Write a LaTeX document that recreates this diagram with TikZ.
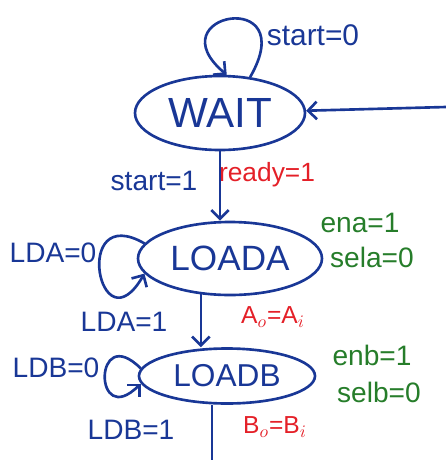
\documentclass[tikz,border=0pt]{standalone}
\usepackage{fontspec}
\setmainfont{Liberation Sans}
\usetikzlibrary{shapes,positioning,arrows.meta}
\definecolor{pen}{RGB}{25,55,150}
\definecolor{penred}{RGB}{228,32,40}
\definecolor{pengreen}{RGB}{38,125,42}
\tikzset{
  state/.style={draw=pen, ellipse, text=pen, inner sep=0pt},
  cond/.style={text=pen, font=\fontsize{16}{18}\selectfont, inner sep=0pt},
  outp/.style={text=penred, font=\fontsize{14}{16}\selectfont, inner sep=0pt},
  sig/.style={text=pengreen, font=\fontsize{16}{18}\selectfont, inner sep=0pt}
}

\begin{document}
\begin{tikzpicture}[line width=1.5pt, >={Straight Barb[length=5pt,width=10pt]}]
         \useasboundingbox (0,0) rectangle (8.92,-9.2);
         \node [state, minimum width=3.4cm, minimum height=1.48cm,
                font=\fontsize{24}{26}\selectfont] (W) at (4.4,-2.26) {WAIT};
         \node [state, minimum width=3.68cm, minimum height=1.46cm,
                font=\fontsize{20}{22}\selectfont] (LA) at (4.6,-5.17) {LOADA};
         \node [state, minimum width=3.52cm, minimum height=1.1cm,
                font=\fontsize{18}{20}\selectfont] (LB) at (4.54,-7.52) {LOADB};
         \coordinate (IN) at (8.92,-2.14);
         \coordinate (OUT) at (4.24,-9.2);
         % conditions and outputs
         \node [cond, font=\fontsize{17}{19}\selectfont] (s0) at (6.26,-0.7) {start=0};
         \node [cond] (s1) at (3.08,-3.62) {start=1};
         \node [outp, font=\fontsize{15}{17}\selectfont] (rdy) at (5.34,-3.5) {ready=1};
         \node [cond] (a0) at (1.06,-5.06) {LDA=0};
         \node [sig] (ena) at (7.2,-4.46) {ena=1};
         \node [sig] (sela) at (7.44,-5.14) {sela=0};
         \node [cond] (a1) at (2.48,-6.44) {LDA=1};
         \node [outp] (ao) at (5.46,-6.34) {A$_o$=A$_i$};
         \node [cond] (b0) at (1.12,-7.36) {LDB=0};
         \node [sig] (enb) at (7.44,-7.1) {enb=1};
         \node [sig] (selb) at (7.58,-7.84) {selb=0};
         \node [cond] (b1) at (2.62,-8.6) {LDB=1};
         \node [outp] (bo) at (5.5,-8.54) {B$_o$=B$_i$};
         % transitions
         \draw [pen, ->] (W.50) .. controls +(60:2.1) and +(140:1.9) .. (W.80);
         \draw [pen, ->] (IN) -- (W);
         \draw [pen, ->] (W.south) -- (W.south |- LA.north);
         \draw [pen, ->] (LA.170) .. controls +(150:1.7) and +(240:1.8) .. (LA.190);
         \draw [pen, ->] (LA.231) -- (LA.231 |- LB.north);
         \draw [pen, ->] (LB.175) .. controls +(135:1.35) and +(225:1.35) .. (LB.185);
         \draw [pen] (OUT |- LB.south) -- (OUT);
\end{tikzpicture}
\end{document}
